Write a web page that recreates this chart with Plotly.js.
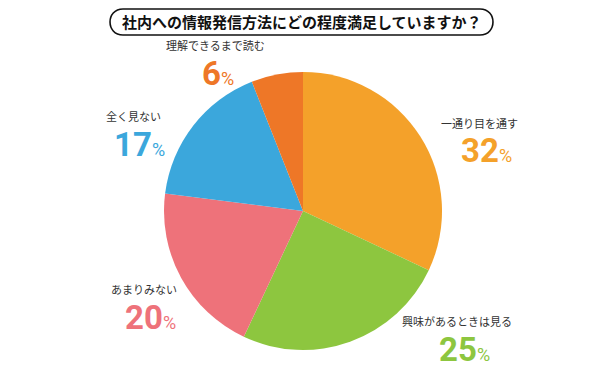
<!DOCTYPE html>
<html><head><meta charset="utf-8">
<script src="https://cdn.plot.ly/plotly-3.0.1.min.js"></script>
<style>html,body{margin:0;padding:0;background:#fff}#chart{width:608px;height:381px}</style>
</head><body><div id="chart"></div>
<script>
var title = "社内への情報発信方法にどの程度満足していますか？";
var categories = ["一通り目を通す", "興味があるときは見る", "あまりみない", "全く見ない", "理解できるまで読む"];
var values = [32, 25, 20, 17, 6];
var colors = ["#F4A12A", "#8DC63F", "#EE727A", "#3BA7DC", "#EE7727"];

var W = 608, H = 381;
function px(x){return x/W;}
function py(y){return 1 - y/H;}

var cx = 303, cy = 211, r = 139;
var trace = {
  type: "pie", values: values, labels: categories, sort: false, direction: "clockwise",
  rotation: 0, textinfo: "none", hoverinfo: "none", showlegend: false,
  marker: {colors: colors, line: {width: 0}},
  domain: {x: [px(cx - r), px(cx + r)], y: [py(cy + r), py(cy - r)]}
};

// label positions (pixels): [labelX, labelY, numX, numY]
var pos = [
  [479.5, 123, 486, 149.5],
  [457, 320.5, 464, 349],
  [143.5, 289, 150, 317],
  [133.5, 116.5, 139, 144.5],
  [215, 45, 218, 73]
];
var annotations = [];
for (var i = 0; i < categories.length; i++) {
  annotations.push({xref: "paper", yref: "paper", x: px(pos[i][0]), y: py(pos[i][1]),
    text: categories[i], showarrow: false, xanchor: "center", yanchor: "middle",
    height: 12, valign: "middle",
    font: {family: "Noto Sans CJK JP", size: 11, color: "#333"}});
  annotations.push({xref: "paper", yref: "paper", x: px(pos[i][2]), y: py(pos[i][3]),
    text: "<b>" + values[i] + "</b><span style='font-size:18px'>%</span>", showarrow: false,
    xanchor: "center", yanchor: "middle", height: 26, valign: "middle",
    font: {family: "Roboto", size: 33, color: colors[i]}});
}
annotations.push({xref: "paper", yref: "paper", x: px(302), y: py(22), text: "<b>" + title + "</b>",
  showarrow: false, xanchor: "center", yanchor: "middle",
  font: {family: "Noto Sans CJK JP", size: 15, color: "#111"}});

// pill-shaped title box
var x0 = 110, x1 = 493, y0 = 9, y1 = 35, rr = 13, k = 17.3;
function P(x, y){return px(x) + "," + py(y);}
var path = "M" + P(x0 + rr, y0) + " L" + P(x1 - rr, y0) +
  " C" + P(x1 - rr + k, y0) + " " + P(x1 - rr + k, y1) + " " + P(x1 - rr, y1) +
  " L" + P(x0 + rr, y1) +
  " C" + P(x0 + rr - k, y1) + " " + P(x0 + rr - k, y0) + " " + P(x0 + rr, y0) + " Z";

var layout = {
  width: W, height: H, margin: {l: 0, r: 0, t: 0, b: 0},
  paper_bgcolor: "#fff", plot_bgcolor: "#fff",
  annotations: annotations,
  shapes: [{type: "path", xref: "paper", yref: "paper", path: path,
    line: {color: "#111", width: 1.6}, fillcolor: "#fff", layer: "below"}]
};
Plotly.newPlot("chart", [trace], layout, {staticPlot: true, displayModeBar: false});
</script>
</body></html>
